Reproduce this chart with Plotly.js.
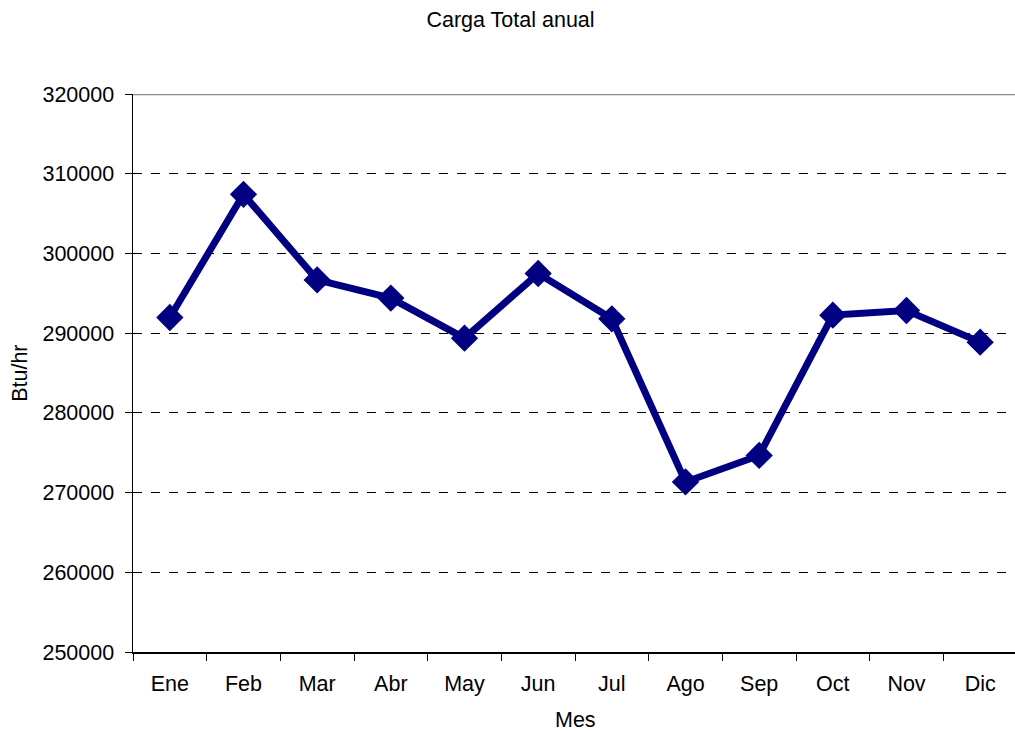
<!DOCTYPE html>
<html>
<head>
<meta charset="utf-8">
<script src="https://cdn.plot.ly/plotly-3.0.1.min.js"></script>
<style>
  html, body { margin: 0; padding: 0; background: #fff; overflow: hidden; }
  #chart { width: 1017px; height: 731px; }
</style>
</head>
<body>
<div id="chart"></div>
<script>
// Monthly total load (Btu/hr)
const meses = ['Ene', 'Feb', 'Mar', 'Abr', 'May', 'Jun', 'Jul', 'Ago', 'Sep', 'Oct', 'Nov', 'Dic'];
const cargaTotal = [291960, 307420, 296680, 294400, 289370, 297480, 291800, 271330, 274660, 292260, 292840, 288870];
const yTicks = [250000, 260000, 270000, 280000, 290000, 300000, 310000, 320000];

const FONT = 'Liberation Sans, Arial, sans-serif';
const FS = 21.5;

const trace = {
  x: meses,
  y: cargaTotal,
  type: 'scatter',
  mode: 'lines+markers',
  line: { color: '#000080', width: 7 },
  marker: { symbol: 'diamond', size: 21, color: '#000080' },
  cliponaxis: false,
  hoverinfo: 'x+y'
};

const layout = {
  width: 1017,
  height: 731,
  autosize: false,
  margin: { l: 133, r: 0, t: 94, b: 79, pad: 0 },
  paper_bgcolor: '#ffffff',
  plot_bgcolor: '#ffffff',
  showlegend: false,
  font: { family: FONT, size: FS, color: '#000' },
  title: {
    text: 'Carga Total anual',
    font: { family: FONT, size: FS, color: '#000' },
    x: 0.502, xanchor: 'center',
    y: 0.973, yanchor: 'middle'
  },
  xaxis: {
    type: 'category',
    categoryorder: 'array',
    categoryarray: meses,
    range: [-0.5, 11.5],
    automargin: false,
    tickson: 'boundaries',
    ticks: 'outside',
    ticklen: 7,
    tickcolor: '#000',
    ticklabelstandoff: 12,
    showline: true,
    linecolor: '#000',
    linewidth: 1.5,
    showgrid: false,
    zeroline: false,
    tickfont: { family: FONT, size: FS }
  },
  yaxis: {
    range: [250000, 320000],
    automargin: false,
    tickvals: yTicks,
    tickformat: 'd',
    ticks: 'outside',
    ticklen: 7,
    tickcolor: '#000',
    ticklabelstandoff: 6,
    showline: true,
    linecolor: '#000',
    linewidth: 1.5,
    showgrid: true,
    gridcolor: '#000',
    gridwidth: 1,
    griddash: 'dash',
    zeroline: false,
    tickfont: { family: FONT, size: FS }
  },
  annotations: [
    {
      text: 'Mes', xref: 'paper', yref: 'paper',
      x: 0.5, y: -0.122, xanchor: 'center', yanchor: 'middle',
      showarrow: false, font: { family: FONT, size: FS }
    },
    {
      text: 'Btu/hr', xref: 'paper', yref: 'paper',
      x: -0.128, y: 0.5, xanchor: 'center', yanchor: 'middle',
      textangle: -90, showarrow: false, font: { family: FONT, size: FS }
    }
  ],
  shapes: [{
    type: 'line', xref: 'paper', yref: 'y',
    x0: 0, x1: 1, y0: 320000, y1: 320000,
    line: { color: '#8c8c8c', width: 2.5 },
    layer: 'below'
  }]
};

Plotly.newPlot('chart', [trace], layout, { displayModeBar: false, staticPlot: true });
</script>
</body>
</html>
